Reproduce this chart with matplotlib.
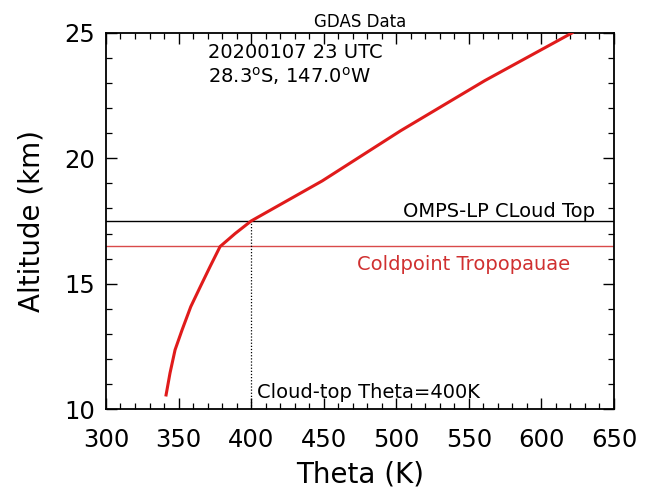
import matplotlib
matplotlib.use("Agg")
import matplotlib.pyplot as plt
from matplotlib.ticker import MultipleLocator

# Data
theta = [341.4, 344.1, 347.6, 352.4, 358.4, 365.0, 371.7, 378.6, 389.0, 400.0, 449.0, 503.0, 561.0, 621.0]
altitude = [10.56, 11.43, 12.36, 13.15, 14.08, 14.88, 15.68, 16.48, 17.0, 17.5, 19.1, 21.1, 23.1, 25.0]
cloud_top_alt = 17.5
tropopause_alt = 16.5
cloud_top_theta = 400.0

x_ticks = [300, 350, 400, 450, 500, 550, 600, 650]
y_ticks = [10, 15, 20, 25]

fig = plt.figure(figsize=(6.47, 4.96), dpi=100)
ax = fig.add_axes([0.1638, 0.1754, 0.949 - 0.1638, 0.9335 - 0.1754])

ax.plot(theta, altitude, color="#e01b1b", lw=2.2, zorder=3)
ax.axhline(cloud_top_alt, color="black", lw=1.0)
ax.axhline(tropopause_alt, color="#d94a4a", lw=1.0)
ax.plot([cloud_top_theta, cloud_top_theta], [10, cloud_top_alt], color="black", lw=0.9, ls=(0, (1, 1.5)))

ax.set_xlim(300, 650)
ax.set_ylim(10, 25)
ax.set_xticks(x_ticks)
ax.set_yticks(y_ticks)
ax.xaxis.set_minor_locator(MultipleLocator(10))
ax.yaxis.set_minor_locator(MultipleLocator(1))
ax.tick_params(which="both", direction="in", top=True, right=True, labelsize=17.5)
ax.tick_params(axis="x", which="major", pad=14)
ax.tick_params(axis="y", which="major", pad=8)
ax.tick_params(which="major", length=8, width=1.0)
ax.tick_params(which="minor", length=4, width=0.9)
for s in ax.spines.values():
    s.set_linewidth(1.3)

ax.set_xlabel("Theta (K)", fontsize=20, labelpad=6)
ax.set_ylabel("Altitude (km)", fontsize=20, labelpad=13)
ax.set_title("GDAS Data", fontsize=12, pad=4)

ax.text(370.5, 24.0, "20200107 23 UTC", fontsize=14, va="baseline", ha="left")
ax.text(370.5, 23.0, "28.3$^{\\rm o}$S, 147.0$^{\\rm o}$W", fontsize=14, va="baseline", ha="left")
ax.text(637, 17.67, "OMPS-LP CLoud Top", fontsize=14, ha="right", va="baseline")
ax.text(620, 15.55, "Coldpoint Tropopauae", fontsize=14, ha="right", va="baseline", color="#d03030")
ax.text(404, 10.44, "Cloud-top Theta=400K", fontsize=14, ha="left", va="baseline")

fig.savefig("out.png", dpi=100)
